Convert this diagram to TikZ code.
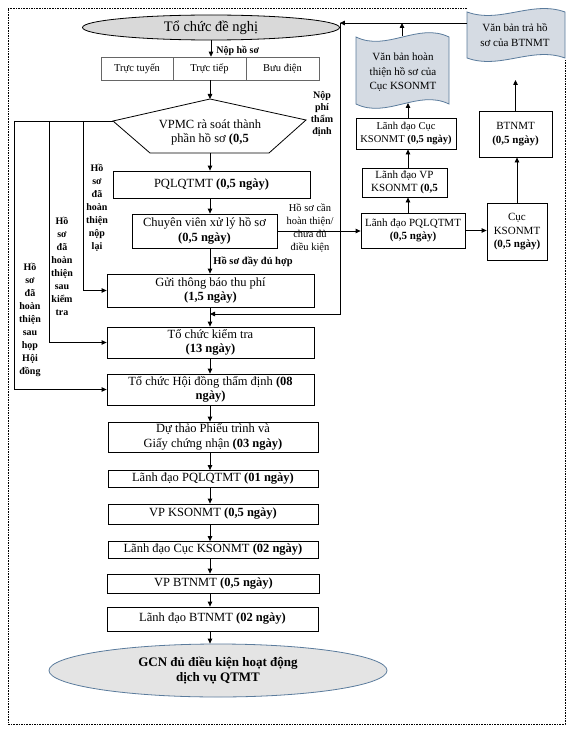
\documentclass[tikz,border=0pt]{standalone}
\usepackage{fontspec}
\setmainfont{Liberation Serif}
\usetikzlibrary{arrows.meta,calc,positioning,shapes.geometric}
\definecolor{xamnhat}{HTML}{D9D9D9}
\definecolor{xanhxam}{HTML}{D5DBE3}
\definecolor{vienxanh}{HTML}{5A7B9C}

\begin{document}
\begin{tikzpicture}[x=1pt,y=-1pt, >={Triangle[length=5pt,width=4.5pt]}, line width=0.8pt,
  hop/.style={draw, inner sep=1pt, align=center, font=\fontsize{12.5}{14.5}\selectfont},
  hopnho/.style={hop, font=\fontsize{11}{13.5}\selectfont},
  kenh/.style={draw=gray!80!black, line width=0.6pt, inner sep=0pt, minimum height=23pt, font=\fontsize{10.5}{12}\selectfont},
  nhan/.style={font=\bfseries\fontsize{10}{13}\selectfont, align=center, inner sep=0pt},
  song/.style={fill=xanhxam, draw=vienxanh, line width=0.8pt}]
\useasboundingbox (0,0) rectangle (575,733);
% khung ngoai
\draw[dash pattern=on 1.6pt off 1pt] (467,8) -- (8,8) -- (8,724) -- (565,724) -- (565,60);

% dau vao
\node[ellipse, draw, fill=xamnhat, minimum width=257pt, minimum height=25pt, inner sep=0pt, font=\fontsize{14.5}{16}\selectfont] (tcdn) at (211,27.5) {Tổ chức đề nghị};
\node[kenh, minimum width=72pt] (kenh1) at (137,68.5) {Trực tuyến};
\node[kenh, minimum width=73pt] (kenh2) at (209.5,68.5) {Trực tiếp};
\node[kenh, minimum width=73pt] (kenh3) at (282.5,68.5) {Bưu điện};
\node[nhan, anchor=west] (nophs) at (216,51) {Nộp hồ sơ};
\draw[->] (tcdn.south) -- (tcdn.south |- kenh2.north);

% VPMC
\coordinate (vpmcT) at (210,99);
\coordinate (vpmcR) at (306,120);
\coordinate (vpmcL) at (113,121);
\coordinate (vpmcB) at (210,153);
\draw (vpmcT) -- (vpmcR) -- (269,153) -- (150,153) -- (vpmcL) -- cycle;
\node[align=center, inner sep=0pt, font=\fontsize{12.5}{14}\selectfont] (vpmc) at (210,132) {VPMC rà soát thành\\phần hồ sơ \textbf{(0,5}};
\draw[->] (kenh2.south -| vpmcT) -- (vpmcT);
\node[nhan, font=\bfseries\fontsize{10}{12}\selectfont] (nopphi) at (322,114) {Nộp\\phí\\thẩm\\định};

% cot chinh
\coordinate (truc) at (210,0);
\node[hop, minimum width=197pt, minimum height=27pt] (pql) at (211.5,184.5) {PQLQTMT \textbf{(0,5 ngày)}};
\node[hop, minimum width=145pt, minimum height=34pt] (cvxl) at (204.5,231) {Chuyên viên xử lý hồ sơ\\\textbf{(0,5 ngày)}};
\node[hop, minimum width=207pt, minimum height=33pt] (gtb) at (210.5,290.5) {Gửi thông báo thu phí\\\textbf{(1,5 ngày)}};
\node[hop, minimum width=207pt, minimum height=31pt] (tckt) at (210.5,342.5) {Tổ chức kiểm tra\\\textbf{(13 ngày)}};
\node[hop, minimum width=207pt, minimum height=31pt] (tchd) at (210.5,389.5) {Tổ chức Hội đồng thẩm định \textbf{(08}\\\textbf{ngày)}};
\node[hop, minimum width=210pt, minimum height=30pt] (dtpt) at (213,437) {Dự thảo Phiếu trình và\\Giấy chứng nhận \textbf{(03 ngày)}};
\node[hop, minimum width=210pt, minimum height=17pt] (ldpql) at (213,479) {Lãnh đạo PQLQTMT \textbf{(01 ngày)}};
\node[hop, minimum width=210pt, minimum height=20pt] (vpks) at (213,514) {VP KSONMT \textbf{(0,5 ngày)}};
\node[hop, minimum width=210pt, minimum height=17pt] (ldcuc) at (213,550) {Lãnh đạo Cục KSONMT \textbf{(02 ngày)}};
\node[hop, minimum width=212pt, minimum height=19pt] (vpbt) at (213.5,583.5) {VP BTNMT \textbf{(0,5 ngày)}};
\node[hop, minimum width=211pt, minimum height=24pt] (ldbt) at (212.5,619) {Lãnh đạo BTNMT \textbf{(02 ngày)}};
\node[ellipse, draw=vienxanh, fill=xamnhat!70, minimum width=338pt, minimum height=53pt, inner sep=0pt, align=center, font=\bfseries\fontsize{13}{15.5}\selectfont] (gcn) at (218,670.5) {GCN đủ điều kiện hoạt động\\dịch vụ QTMT};

\draw[->] (vpmcB) -- (vpmcB |- pql.north);
\draw[->] (pql.south -| truc) -- (cvxl.north -| truc);
\draw[->] (cvxl.south -| truc) -- (gtb.north -| truc);
\draw[->] (gtb.south -| truc) -- (tckt.north -| truc);
\draw[->] (tckt.south -| truc) -- (tchd.north -| truc);
\draw[->] (tchd.south -| truc) -- (dtpt.north -| truc);
\draw[->] (dtpt.south -| truc) -- (ldpql.north -| truc);
\draw[->] (ldpql.south -| truc) -- (vpks.north -| truc);
\draw[->] (vpks.south -| truc) -- (ldcuc.north -| truc);
\draw[->] (ldcuc.south -| truc) -- (vpbt.north -| truc);
\draw[->] (vpbt.south -| truc) -- (ldbt.north -| truc);
\draw[->] (ldbt.south -| truc) -- (gcn.north -| truc);
\node[nhan, anchor=west, font=\bfseries\fontsize{10.5}{12}\selectfont] (dudu) at (213,262) {Hồ sơ đầy đủ hợp};

% cac nhanh ben trai
\coordinate (v1) at (83,121);
\coordinate (v2) at (49,121);
\coordinate (v3) at (14,121);
\draw (vpmcL) -- (v3);
\draw[->] (v1) |- (gtb.west);
\draw[->] (v2) |- (tckt.west);
\draw[->] (v3) |- (tchd.west);
\node[nhan] (nl1) at (97,207.5) {Hồ\\sơ\\đã\\hoàn\\thiện\\nộp\\lại};
\node[nhan] (nl2) at (62,266.5) {Hồ\\sơ\\đã\\hoàn\\thiện\\sau\\kiểm\\tra};
\node[nhan] (nl3) at (30,319.5) {Hồ\\sơ\\đã\\hoàn\\thiện\\sau\\họp\\Hội\\đồng};

% cot ben phai
\coordinate (cot) at (408,0);
\node[hopnho, minimum width=104pt, minimum height=35pt] (ldpql2) at (413,230.5) {Lãnh đạo PQLQTMT\\\textbf{(0,5 ngày)}};
\node[hopnho, minimum width=85pt, minimum height=29pt] (ldvp) at (404.5,182.5) {Lãnh đạo VP\\KSONMT \textbf{(0,5}};
\node[hopnho, minimum width=100pt, minimum height=31pt, font=\fontsize{10.5}{13.5}\selectfont] (ldcuc2) at (406,133.5) {Lãnh đạo Cục\\KSONMT \textbf{(0,5 ngày)}};
\node[hopnho, minimum width=60pt, minimum height=57pt] (cucks) at (517,232) {Cục\\KSONMT\\\textbf{(0,5 ngày)}};
\node[hopnho, minimum width=73pt, minimum height=46pt] (btnmt) at (515.5,134) {BTNMT\\\textbf{(0,5 ngày)}};
\node[align=center, inner sep=0pt, font=\fontsize{10.5}{13}\selectfont] (canht) at (310,228.5) {Hồ sơ cần\\hoàn thiện/\\chưa đủ\\điều kiện};
\draw[->] (cvxl.east) -- (cvxl.east -| ldpql2.west);
\draw[->] (ldpql2.east) -- (ldpql2.east -| cucks.west);
\draw[->] (ldpql2.north -| cot) -- (ldvp.south -| cot);
\draw[->] (ldvp.north -| cot) -- (ldcuc2.south -| cot);
\draw[->] (cucks.north) -- (cucks.north |- btnmt.south);

% van ban tra ve
\draw[song] (356,37) .. controls (387,52) and (418,22) .. (449,37) -- (449,104) .. controls (418,89) and (387,119) .. (356,104) -- cycle;
\draw[song] (467,12) .. controls (500,24) and (532,0) .. (565,12) -- (565,58) .. controls (532,46) and (500,70) .. (467,58) -- cycle;
\node[align=center, inner sep=0pt, font=\fontsize{11}{14.5}\selectfont] (vbht) at (403,72.5) {Văn bản hoàn\\thiện hồ sơ của\\Cục KSONMT};
\node[align=center, inner sep=0pt, font=\fontsize{11}{15}\selectfont] (vbtra) at (515,35.5) {Văn bản trả hồ\\sơ của BTNMT};
\coordinate (vbhtT) at (402,36);
\coordinate (vbhtB) at (408,103);
\coordinate (vbtraL) at (467,23);
\coordinate (vbtraB) at (516,80);
\coordinate (goc) at (tcdn.east |- vbtraL);
\draw[->] (ldcuc2.north -| cot) -- (vbhtB);
\draw[->] (btnmt.north) -- (btnmt.north |- vbtraB);
\draw[->] (vbtraL) -- (goc);
\draw[->] (vbhtT) -- (vbhtT |- vbtraL);

% nop phi tham dinh
\coordinate (noiphi) at (210,314);
\draw[->] (goc) |- (noiphi);
\end{tikzpicture}
\end{document}
